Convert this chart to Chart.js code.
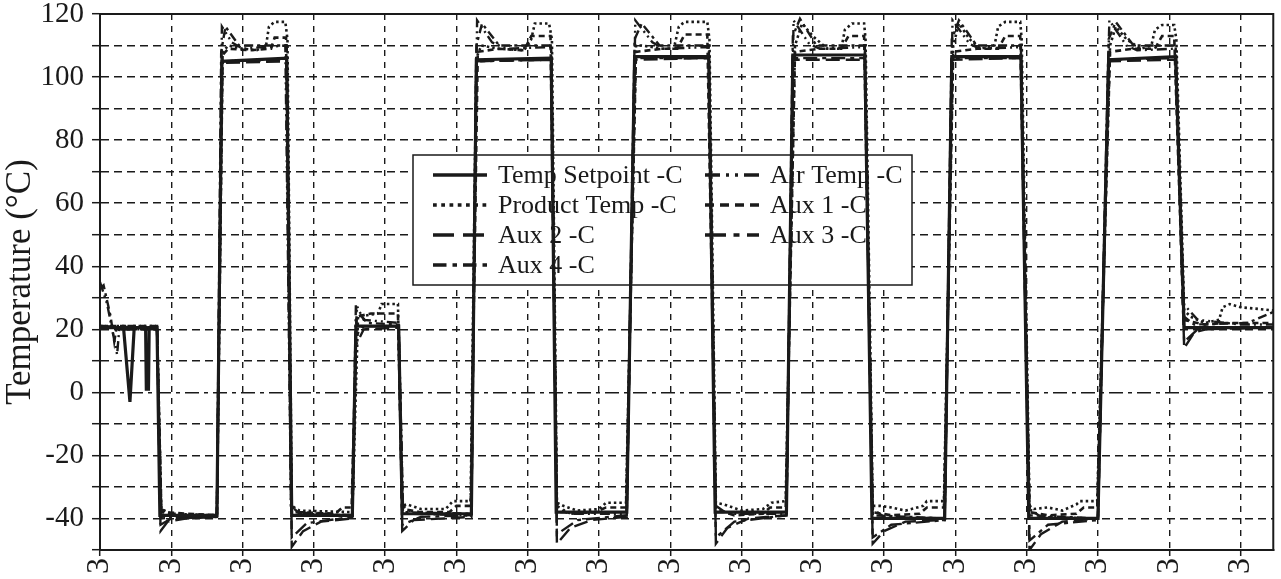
<!DOCTYPE html>
<html>
<head>
<meta charset="utf-8">
<script src="https://cdn.jsdelivr.net/npm/chart.js@4.4.0/dist/chart.umd.min.js"></script>
<style>
  html, body { margin: 0; padding: 0; background: #fff; }
</style>
</head>
<body>
<canvas id="temps" width="1281" height="579"></canvas>
<script>
// [time, °C] pairs (time in tick intervals)
const setpoint = [[0,20.5],[0.33,20.5],[0.42,-3],[0.48,20.5],[0.64,20.5],[0.65,1],[0.68,1],[0.69,20.5],[0.80,20.5],
  [0.84,-39],[1.64,-39],[1.71,105],[2.62,106],[2.69,-39],[3.54,-39],[3.59,21],[4.19,21],[4.24,-38.5],[5.21,-38.5],
  [5.28,105.5],[6.33,106],[6.40,-38],[7.39,-38],[7.50,106.5],[8.54,106.5],[8.63,-38],[9.63,-38],[9.72,107],[10.73,107],
  [10.83,-40],[11.85,-40],[11.95,106.5],[12.92,106.5],[13.03,-40],[14.00,-40],[14.15,105.5],[15.09,106.5],[15.21,20.5],[16.46,20.5]];

const airTemp = [[0,35],[0.1,28],[0.17,20],[0.24,12],[0.27,20],[0.8,20],[0.86,-37],[1.0,-39],[1.64,-39.5],
  [1.71,116],[1.85,111],[2.0,109],[2.3,109.5],[2.6,110],[2.68,-36],[2.8,-38.5],[3.54,-39],[3.59,28],[3.7,23],[4.19,22],
  [4.25,-36],[4.4,-38.5],[5.21,-39],[5.29,118],[5.5,111],[5.7,109],[6.33,109.5],[6.41,-36],[6.6,-38.5],[7.39,-38.5],
  [7.51,118],[7.75,111],[7.9,109],[8.54,109.5],[8.64,-36],[8.8,-38.5],[9.63,-38.5],[9.73,118],[9.95,110.5],[10.1,109],
  [10.73,109.5],[10.84,-37],[11.0,-39.5],[11.85,-40],[11.96,118],[12.2,110.5],[12.35,109],[12.92,109.5],[13.04,-37],
  [13.2,-39.5],[14.0,-40],[14.16,118],[14.4,110],[14.55,108.5],[15.09,109],[15.2,28],[15.4,23],[16.0,21.5],[16.46,21.5]];

const productTemp = [[0,21],[0.8,21],[0.86,-37],[1.0,-38.5],[1.64,-39],
  [1.72,108],[1.8,110],[2.0,109],[2.2,108.5],[2.33,110],[2.37,116],[2.45,117.5],[2.6,117.5],[2.63,112],[2.69,-36],
  [2.8,-37.5],[3.54,-38],[3.62,24],[3.9,25],[3.95,28],[4.18,28],[4.24,-36],
  [4.3,-35.5],[4.5,-37],[4.85,-37],[4.95,-34.5],[5.2,-34.5],
  [5.28,106],[5.35,110],[5.6,109],[5.95,108.5],[6.05,112],[6.1,117],[6.3,117],[6.34,112],[6.41,-35],
  [6.5,-36],[6.7,-37.5],[7.0,-37],[7.1,-35],[7.38,-35],
  [7.52,110],[7.6,110],[7.9,109],[8.05,109],[8.12,116],[8.2,117.5],[8.52,117.5],[8.55,112],[8.64,-35],
  [8.75,-35.5],[9.0,-37.5],[9.3,-37],[9.42,-35],[9.62,-34.5],
  [9.75,110],[9.85,117],[10.0,113],[10.2,109],[10.4,109],[10.45,115],[10.55,117],[10.72,117],[10.74,112],[10.84,-36],
  [10.95,-36],[11.1,-36.5],[11.3,-37.5],[11.55,-36],[11.6,-34.5],[11.84,-34.5],
  [11.97,110],[12.05,117],[12.2,112],[12.35,109],[12.55,110],[12.6,116],[12.7,117.5],[12.91,117.5],[12.93,112],[13.04,-36],
  [13.1,-37],[13.3,-36.5],[13.5,-37.5],[13.7,-35.5],[13.75,-34.5],[13.99,-34.5],
  [14.17,110],[14.25,116],[14.4,112],[14.6,109],[14.75,110],[14.8,115],[14.9,116.5],[15.07,116.5],[15.1,112],
  [15.21,26],[15.3,24],[15.5,22],[15.7,23],[15.75,27],[15.85,28],[16.0,27],[16.46,26]];

const aux1 = [[0,21],[0.8,21],[0.86,-38],[1.64,-39],
  [1.72,107],[1.8,109],[2.1,108.5],[2.4,109],[2.45,112.5],[2.61,112.5],[2.68,-36],
  [2.8,-38],[3.3,-38.5],[3.4,-36.5],[3.53,-36.5],[3.6,24],[3.8,25],[4.18,25],[4.24,-37],
  [4.5,-38],[4.9,-38],[5.0,-36],[5.2,-36],
  [5.3,108],[5.6,109],[5.95,108.5],[6.05,113],[6.32,113],[6.41,-37],
  [6.6,-38.5],[6.95,-38],[7.1,-36.5],[7.38,-36.5],
  [7.52,108],[7.9,109],[8.1,109],[8.2,113.5],[8.52,113.5],[8.64,-37],
  [8.9,-39],[9.3,-38.5],[9.4,-36.5],[9.62,-36.5],
  [9.75,108],[10.1,109],[10.4,109],[10.5,113],[10.72,113],[10.84,-38],
  [11.1,-39],[11.5,-38.5],[11.6,-36.5],[11.84,-36.5],
  [11.97,108],[12.3,109],[12.6,109],[12.7,113],[12.91,113],[13.04,-38],
  [13.3,-39],[13.7,-38.5],[13.8,-36.5],[13.99,-36.5],
  [14.17,108],[14.5,109],[14.8,109],[14.9,113],[15.07,113],[15.2,23],[15.5,21.5],[15.8,22],[16.46,22]];

const aux2 = [[0,21],[0.8,20.5],[0.85,-44],[0.95,-41],[1.2,-40],[1.64,-39.5],
  [1.71,104.5],[2.62,105],[2.69,-49],[2.85,-44],[3.1,-41],[3.54,-40],
  [3.59,15],[3.7,20],[4.19,20.5],[4.24,-44],[4.4,-40.5],[5.21,-39.5],
  [5.28,105],[6.33,105.5],[6.41,-48],[6.6,-43],[6.9,-40.5],[7.39,-39.5],
  [7.5,105.5],[8.54,106],[8.64,-48],[8.8,-43],[9.1,-40],[9.63,-39],
  [9.72,105.5],[10.73,105.5],[10.84,-48],[11.0,-44],[11.3,-41],[11.85,-40.5],
  [11.95,105.5],[12.92,106],[13.04,-50],[13.2,-45],[13.5,-41],[14.0,-40],
  [14.15,105],[15.09,105.5],[15.21,14],[15.35,19],[15.6,20.5],[16.46,20.5]];

const aux3 = [[0,20.5],[0.8,20.5],[0.85,-42],[1.0,-40],[1.64,-39.5],
  [1.71,105],[2.62,105.5],[2.69,-46],[2.9,-41.5],[3.54,-39.5],
  [3.59,18],[3.7,21],[4.19,21],[4.24,-42],[4.5,-39.5],[5.21,-39],
  [5.28,105],[6.33,105.5],[6.41,-45],[6.7,-40.5],[7.39,-39],
  [7.5,106],[8.54,106],[8.64,-46],[8.9,-41],[9.63,-39],
  [9.72,106],[10.73,106],[10.84,-46],[11.1,-42],[11.85,-40.5],
  [11.95,106],[12.92,106],[13.04,-47],[13.3,-42],[14.0,-40.5],
  [14.15,105.5],[15.09,106],[15.21,16],[15.4,20],[16.46,20.5]];

const aux4 = [[0,33],[0.05,34],[0.15,24],[0.2,16],[0.23,20],[0.8,20],[0.86,-40],[1.1,-39.5],[1.64,-39.5],
  [1.70,108],[1.76,116],[1.95,110],[2.62,110],[2.69,-38],[3.54,-39],[3.6,26],[3.75,22],[4.19,21.5],[4.25,-38],
  [5.21,-38.5],[5.28,110],[5.36,117],[5.6,110],[6.33,110],[6.41,-38],[7.39,-38],
  [7.50,112],[7.6,117],[7.85,110],[8.54,110],[8.64,-38],[9.63,-38],
  [9.72,113],[9.82,118.5],[10.05,110],[10.73,110],[10.84,-39],[11.85,-40],
  [11.95,112],[12.05,118],[12.3,110],[12.92,110],[13.04,-39],[14.0,-40],
  [14.15,112],[14.25,117.5],[14.5,110],[15.09,110],[15.21,24],[15.35,21.5],[16.1,22],[16.46,25.5]];

const seriesNames = ['Temp Setpoint -C', 'Air Temp -C', 'Product Temp -C', 'Aux 1 -C', 'Aux 2 -C', 'Aux 3 -C', 'Aux 4 -C'];
const seriesData = [setpoint, airTemp, productTemp, aux1, aux2, aux3, aux4];
const seriesDash = [[], [10,4,2,4,2,4], [2.5,3], [6,4], [14,6], [14,5,4,5], [9,4,3,4]];
const seriesWidth = [3.2, 2.4, 2.6, 2.6, 2.4, 2.4, 2.4];
// legend reads down the first column, then the second
const legendOrder = [0, 2, 4, 6, 1, 3, 5];

const INK = '#1a1a1a';
Chart.defaults.font.family = '"Liberation Serif", "Times New Roman", serif';
Chart.defaults.color = INK;

const datasets = seriesNames.map((name, i) => ({
  label: name,
  data: seriesData[i].map(p => ({x: p[0], y: p[1]})),
  borderColor: INK,
  borderWidth: seriesWidth[i],
  borderDash: seriesDash[i],
  pointRadius: 0,
  tension: 0,
  fill: false
}));

const boxAndLegend = {
  id: 'boxAndLegend',
  beforeDatasetsDraw(chart) {
    const c = chart.ctx;
    c.save();
    c.fillStyle = '#fff';
    c.fillRect(413, 155, 499, 130);
    c.strokeStyle = INK;
    c.lineWidth = 1.5;
    c.strokeRect(413, 155, 499, 130);
    c.font = '26px "Liberation Serif"';
    c.textBaseline = 'middle';
    c.fillStyle = INK;
    legendOrder.forEach((idx, k) => {
      const ds = chart.data.datasets[idx];
      const col = k < 4 ? 0 : 1;
      const row = k < 4 ? k : k - 4;
      const x = col ? 705 : 433;
      const y = 175 + row * 30;
      c.setLineDash(ds.borderDash.map(d => d * 1.5));
      c.lineWidth = 3.5;
      c.beginPath();
      c.moveTo(x, y);
      c.lineTo(x + 54, y);
      c.stroke();
      c.setLineDash([]);
      c.fillText(ds.label, x + 65, y + 1);
    });
    c.restore();
  },
  afterDraw(chart) {
    const a = chart.chartArea;
    const c = chart.ctx;
    c.save();
    c.strokeStyle = INK;
    c.lineWidth = 2;
    c.strokeRect(a.left, a.top, a.right - a.left, a.bottom - a.top);
    c.restore();
  }
};

new Chart(document.getElementById('temps'), {
  type: 'line',
  data: { datasets: datasets },
  plugins: [boxAndLegend],
  options: {
    responsive: false,
    animation: false,
    layout: { padding: { top: 14, right: 4, left: 0, bottom: 0 } },
    plugins: { legend: { display: false }, tooltip: { enabled: false } },
    scales: {
      x: {
        type: 'linear',
        min: 0,
        max: 16.46,
        afterFit: s => { s.height = 29; },
        ticks: {
          stepSize: 1,
          includeBounds: false,
          autoSkip: false,
          maxRotation: 90,
          minRotation: 90,
          padding: 2,
          font: { size: 32 },
          callback: () => '3'
        },
        grid: { color: INK, lineWidth: 1.4, tickLength: 6, tickColor: INK, tickWidth: 1.5 },
        border: { color: INK, width: 2, dash: [6, 6] }
      },
      y: {
        min: -50,
        max: 120,
        afterFit: s => { s.width = 100; },
        ticks: {
          stepSize: 10,
          autoSkip: false,
          padding: 8,
          font: { size: 29, lineHeight: 0.4 },
          callback: v => (v % 20 === 0 ? v : '')
        },
        title: { display: true, text: 'Temperature (°C)', font: { size: 35 }, padding: 0 },
        grid: { color: INK, lineWidth: 1.4, tickLength: 8, tickColor: INK, tickWidth: 1.5 },
        border: {
          color: INK,
          width: 2,
          dash: ctx => (ctx.tick && ctx.tick.value === 0 ? [14, 5, 4, 5] : [8, 5])
        }
      }
    }
  }
});
</script>
</body>
</html>
